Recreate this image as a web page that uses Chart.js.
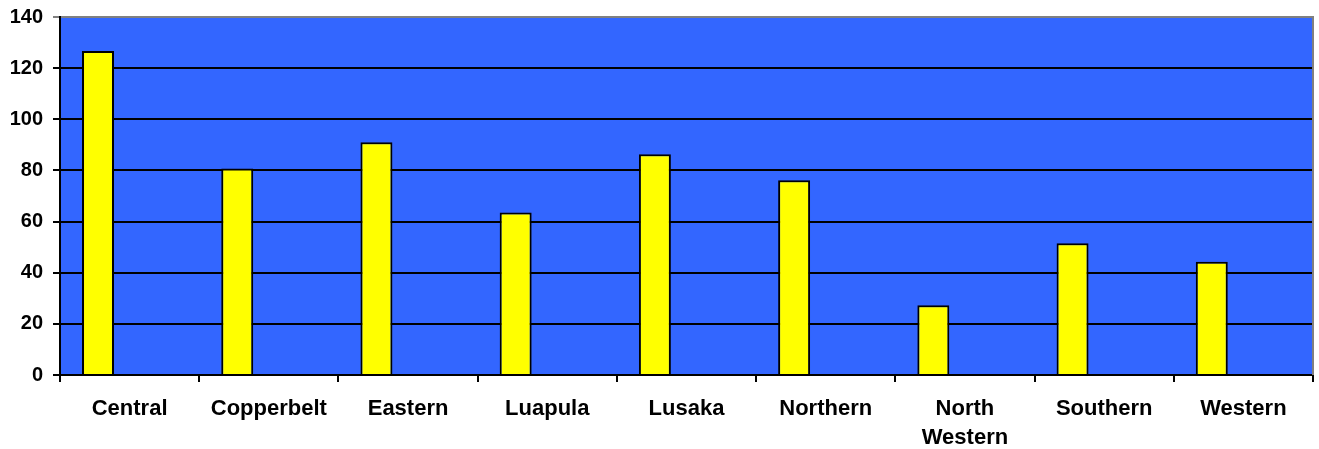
<!DOCTYPE html>
<html>
<head>
<meta charset="utf-8">
<title>Provinces</title>
<script src="https://cdn.jsdelivr.net/npm/chart.js@4.4.1/dist/chart.umd.min.js"></script>
<style>
body { margin: 0; background: #fff; }
#wrap { width: 1319px; height: 449px; }
</style>
</head>
<body>
<div id="wrap"><canvas id="provChart" width="1319" height="449"></canvas></div>
<script>
// categories and values
const provinces = ['Central', 'Copperbelt', 'Eastern', 'Luapula', 'Lusaka', 'Northern', ['North', 'Western'], 'Southern', 'Western'];
const counts = [126.7, 80.8, 91, 63.5, 86.3, 76.2, 27.3, 51.5, 44.3];
// second series is empty, it only reserves the right-hand slot in each group
const emptySeries = [null, null, null, null, null, null, null, null, null];
const yTicks = [0, 20, 40, 60, 80, 100, 120, 140];

const fontFamily = "'Liberation Sans', Arial, sans-serif";
const xFont = { family: fontFamily, size: 22, weight: 'bold', lineHeight: 1.33 };
const yFont = { family: fontFamily, size: 20, weight: 'bold' };

// blue plot area + grey frame on the right
const plotFrame = {
  id: 'plotFrame',
  beforeDraw(chart) {
    const { ctx, chartArea: a } = chart;
    ctx.save();
    ctx.fillStyle = '#3366FF';
    ctx.fillRect(a.left, a.top, a.width, a.height);
    ctx.restore();
  },
  afterDatasetsDraw(chart) {
    const { ctx, chartArea: a } = chart;
    ctx.save();
    ctx.strokeStyle = '#808080';
    ctx.lineWidth = 2;
    ctx.beginPath();
    ctx.moveTo(a.right, a.top - 1);
    ctx.lineTo(a.right, a.bottom);
    ctx.stroke();
    ctx.restore();
  }
};

new Chart(document.getElementById('provChart'), {
  type: 'bar',
  data: {
    labels: provinces,
    datasets: [
      {
        data: counts,
        backgroundColor: '#FFFF00',
        borderColor: '#000000',
        borderWidth: 2,
        borderSkipped: 'bottom'
      },
      {
        data: emptySeries,
        backgroundColor: '#FFFFFF'
      }
    ]
  },
  options: {
    responsive: false,
    animation: false,
    categoryPercentage: 0.908,
    barPercentage: 0.506,
    layout: { padding: { top: 17, right: 6, left: 0, bottom: 0 } },
    plugins: {
      legend: { display: false },
      tooltip: { enabled: false }
    },
    scales: {
      x: {
        grid: {
          drawOnChartArea: false,
          color: '#000000',
          lineWidth: 2,
          tickLength: 7
        },
        border: { color: '#000000', width: 2 },
        ticks: { color: '#000000', font: xFont, padding: 12, maxRotation: 0, autoSkip: false },
        afterFit(scale) {
          scale.height = 74;
          scale.paddingLeft = 0;
          scale.paddingRight = 0;
        }
      },
      y: {
        min: 0,
        max: 140,
        afterBuildTicks(scale) { scale.ticks = yTicks.map(v => ({ value: v })); },
        grid: {
          color: ctx => (ctx.tick && ctx.tick.value === 140 ? '#808080' : '#000000'),
          lineWidth: 2,
          tickLength: 7
        },
        border: { color: '#000000', width: 2 },
        ticks: { color: '#000000', font: yFont, padding: 10 },
        afterFit(scale) {
          scale.width = 60;
          scale.paddingTop = 0;
          scale.paddingBottom = 0;
        }
      }
    }
  },
  plugins: [plotFrame]
});
</script>
</body>
</html>
